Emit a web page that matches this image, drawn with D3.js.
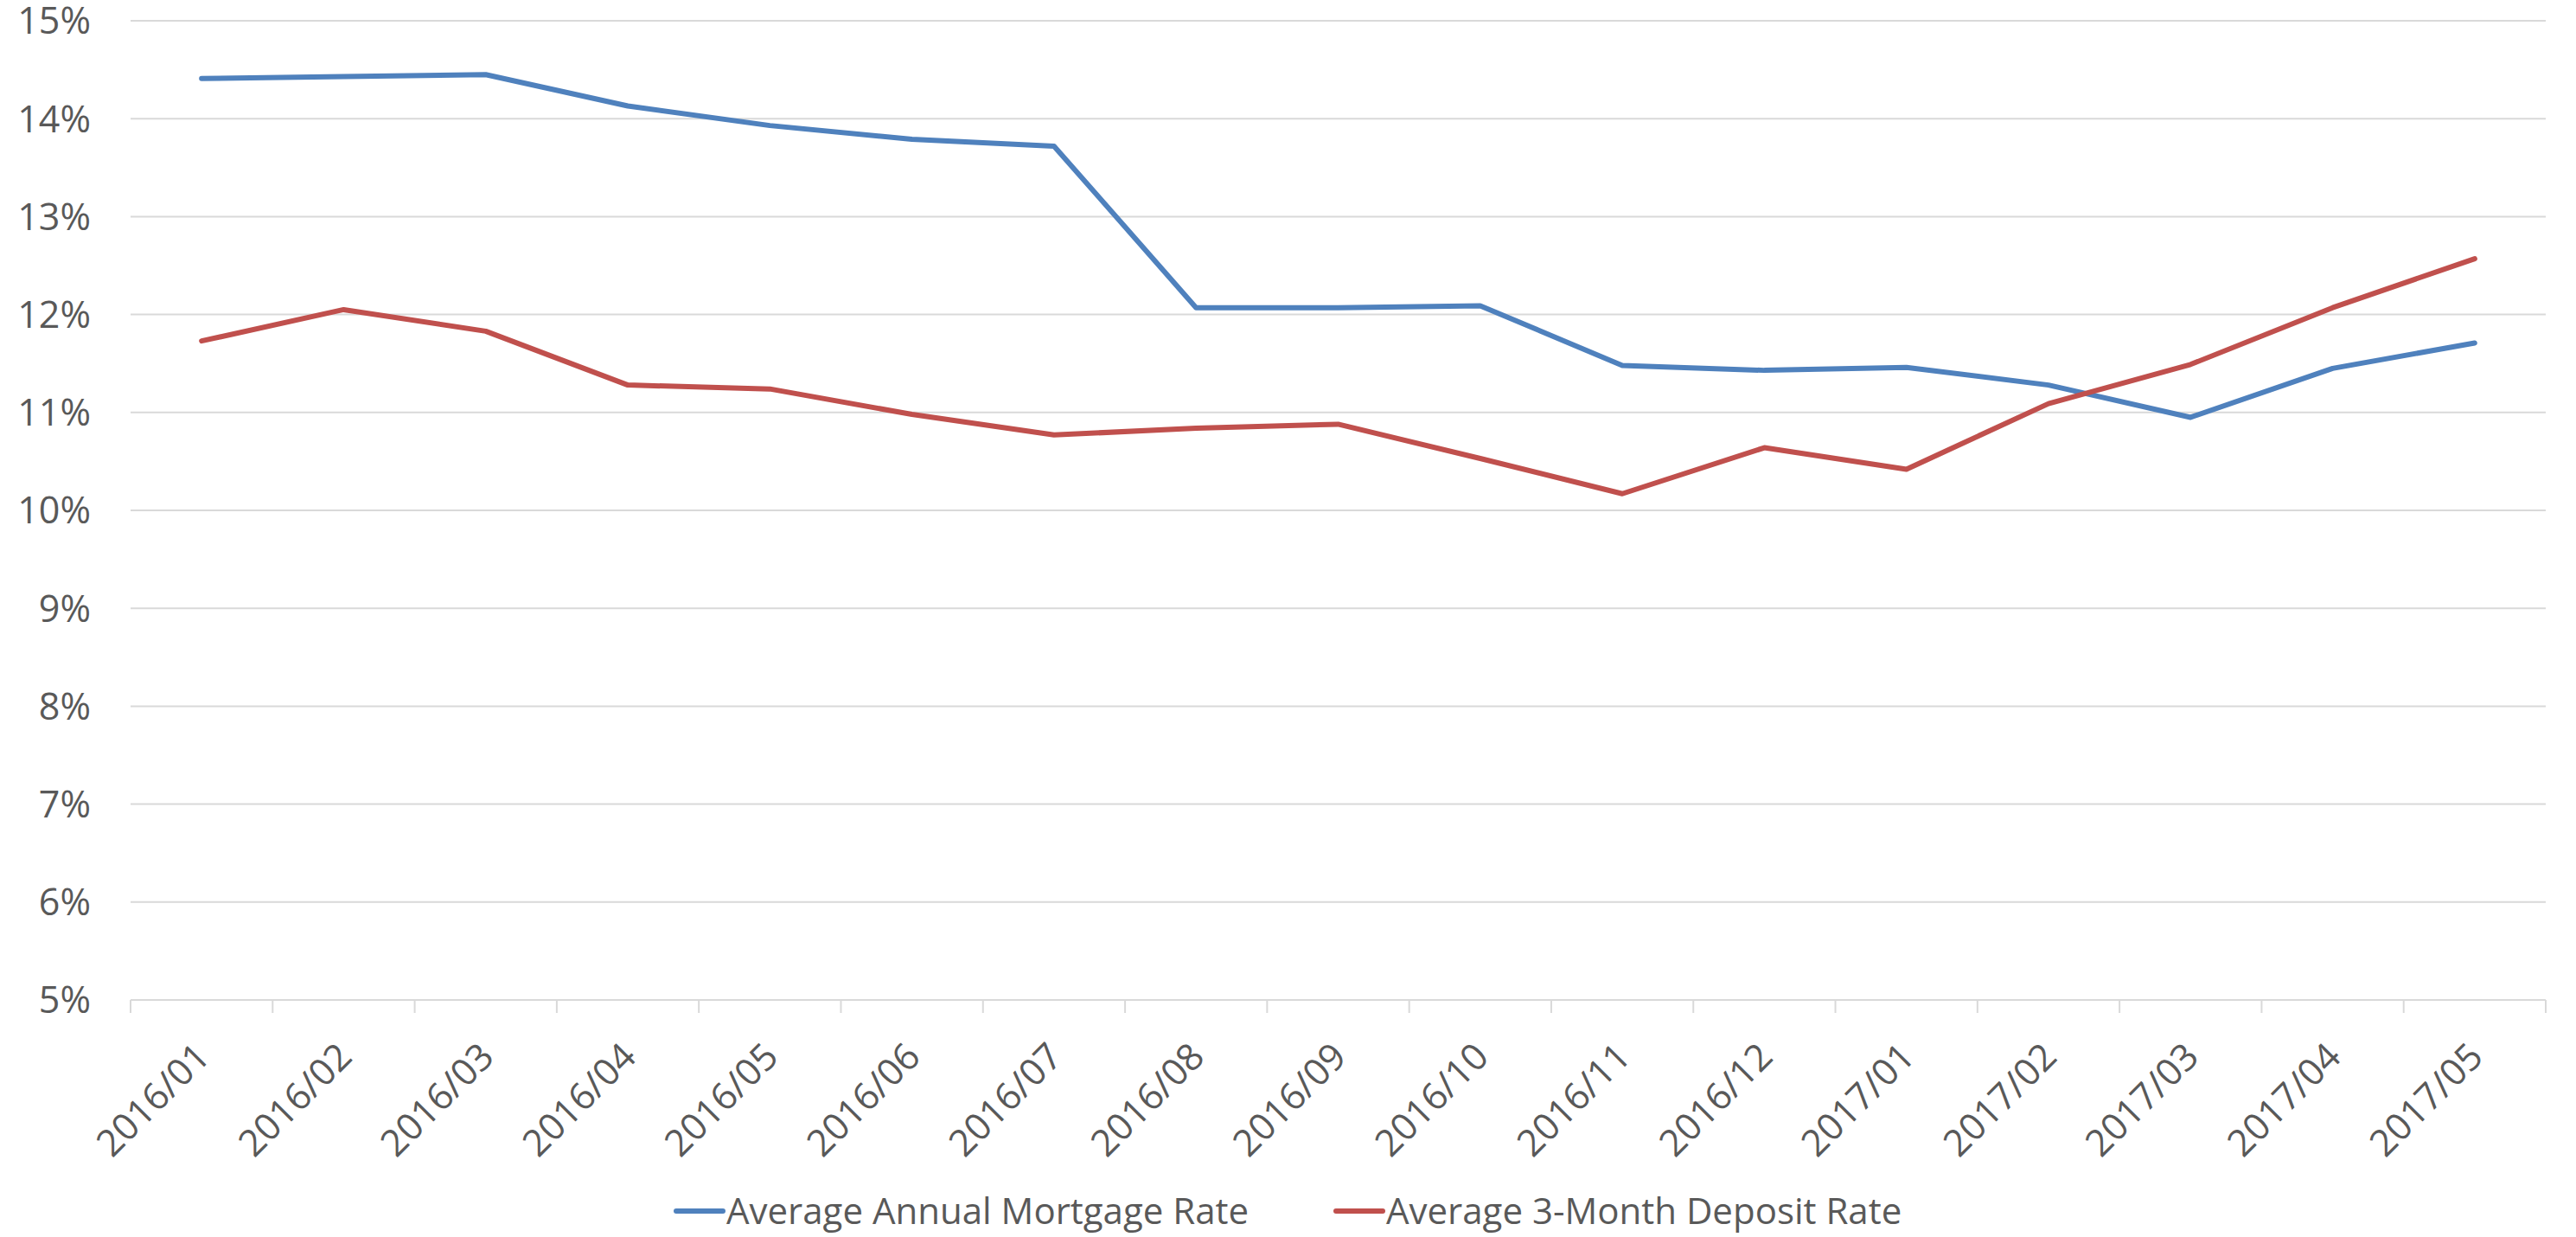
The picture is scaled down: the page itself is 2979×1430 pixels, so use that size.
<!DOCTYPE html>
<html>
<head>
<meta charset="utf-8">
<script src="https://cdn.jsdelivr.net/npm/d3@7"></script>
<style>
  body { margin: 0; background: #fff; }
  text { font-family: "Open Sans", sans-serif; fill: #595959; }
</style>
</head>
<body>
<div id="chart"></div>
<script>
// Data
const months = ["2016/01", "2016/02", "2016/03", "2016/04", "2016/05", "2016/06", "2016/07", "2016/08", "2016/09",
  "2016/10", "2016/11", "2016/12", "2017/01", "2017/02", "2017/03", "2017/04", "2017/05"];
const mortgageRate = [14.41, 14.43, 14.45, 14.13, 13.93, 13.79, 13.72, 12.07, 12.07,
  12.09, 11.48, 11.43, 11.46, 11.28, 10.95, 11.45, 11.71];
const depositRate = [11.73, 12.05, 11.83, 11.28, 11.24, 10.98, 10.77, 10.84, 10.88,
  10.53, 10.17, 10.64, 10.42, 11.09, 11.49, 12.07, 12.57];
const yTicks = [5, 6, 7, 8, 9, 10, 11, 12, 13, 14, 15];
const seriesNames = ["Average Annual Mortgage Rate", "Average 3-Month Deposit Rate"];
const seriesColors = ["#4f81bd", "#c0504d"];

// Set the dimensions and margins of the graph
const totalWidth = 2979;
const totalHeight = 1430;
const margin = { top: 24, right: 35, bottom: 274, left: 151 };
const width = totalWidth - margin.left - margin.right;
const height = totalHeight - margin.top - margin.bottom;

const svg = d3.select("#chart")
  .append("svg")
  .attr("width", totalWidth)
  .attr("height", totalHeight)
  .append("g")
  .attr("transform", `translate(${margin.left}, ${margin.top})`);

// Scales
const x = d3.scaleBand()
  .domain(months)
  .range([0, width]);

const y = d3.scaleLinear()
  .domain([5, 15])
  .range([height, 0]);

// Gridlines
svg.append("g")
  .selectAll("line")
  .data(yTicks)
  .enter().append("line")
  .attr("x1", 0)
  .attr("x2", width)
  .attr("y1", d => y(d))
  .attr("y2", d => y(d))
  .attr("stroke", "#d9d9d9")
  .attr("stroke-width", 2);

// Y axis labels
svg.append("g")
  .selectAll("text")
  .data(yTicks)
  .enter().append("text")
  .attr("x", -46)
  .attr("y", d => y(d))
  .attr("dy", "0.36em")
  .attr("text-anchor", "end")
  .style("font-size", "43px")
  .text(d => d + "%");

// X axis tick marks at category boundaries
const boundaries = months.map(m => x(m)).concat([width]);
svg.append("g")
  .selectAll("line")
  .data(boundaries)
  .enter().append("line")
  .attr("x1", d => d)
  .attr("x2", d => d)
  .attr("y1", height)
  .attr("y2", height + 15)
  .attr("stroke", "#d9d9d9")
  .attr("stroke-width", 2);

// X axis labels, rotated
svg.append("g")
  .selectAll("text")
  .data(months)
  .enter().append("text")
  .attr("transform", d => `translate(${x(d) + x.bandwidth() / 2 + 12}, ${height + 68}) rotate(-45)`)
  .attr("text-anchor", "end")
  .style("font-size", "43px")
  .text(d => d);

// Lines
const series = [mortgageRate, depositRate];
const line = d3.line()
  .x((d, i) => x(months[i]) + x.bandwidth() / 2)
  .y(d => y(d));

svg.selectAll(".series")
  .data(series)
  .enter().append("path")
  .attr("class", "series")
  .attr("fill", "none")
  .attr("stroke", (d, i) => seriesColors[i])
  .attr("stroke-width", 6)
  .attr("stroke-linejoin", "round")
  .attr("stroke-linecap", "round")
  .attr("d", line);

// Legend
const legendX = [782 - margin.left, 1545 - margin.left];
const legendY = 1400 - margin.top;
const legend = svg.selectAll(".legend")
  .data(seriesNames)
  .enter().append("g")
  .attr("class", "legend")
  .attr("transform", (d, i) => `translate(${legendX[i]}, ${legendY})`);

legend.append("line")
  .attr("x1", 0)
  .attr("x2", 54)
  .attr("stroke", (d, i) => seriesColors[i])
  .attr("stroke-width", 6)
  .attr("stroke-linecap", "round");

legend.append("text")
  .attr("x", 58)
  .attr("dy", "0.36em")
  .style("font-size", "42px")
  .text(d => d);
</script>
</body>
</html>
